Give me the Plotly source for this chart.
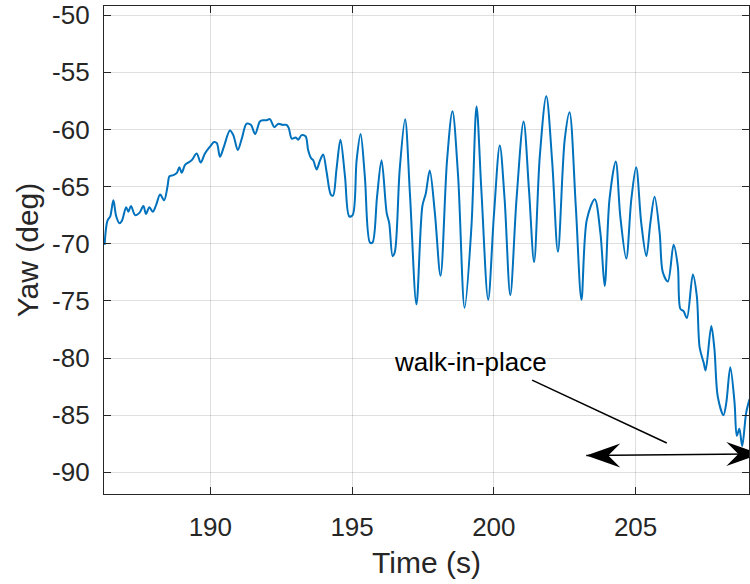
import plotly.graph_objects as go

# ---- data ----
time_s = [186.27, 186.37, 186.47, 186.58, 186.68, 186.79, 186.88, 187.03, 187.11, 187.20,
          187.35, 187.50, 187.64, 187.73, 187.85, 187.97, 188.09, 188.23, 188.37, 188.49,
          188.56, 188.70, 188.82, 188.91, 188.99, 189.11, 189.22, 189.34, 189.52, 189.66,
          189.81, 189.99, 190.13, 190.23, 190.34, 190.48, 190.69, 190.81, 190.97, 191.11,
          191.28, 191.43, 191.58, 191.75, 191.87, 191.99, 192.10, 192.26, 192.40, 192.54,
          192.69, 192.77, 192.87, 193.01, 193.10, 193.22, 193.36, 193.45, 193.55, 193.63,
          193.75, 193.87, 193.98, 194.10, 194.25, 194.33, 194.45, 194.59, 194.75, 194.90,
          195.02, 195.16, 195.30, 195.45, 195.63, 195.72, 195.88, 196.04, 196.22, 196.31,
          196.43, 196.51, 196.68, 196.87, 197.04, 197.27, 197.48, 197.60, 197.74, 197.92,
          198.12, 198.35, 198.54, 198.74, 198.97, 199.21, 199.39, 199.56, 199.80, 200.00,
          200.21, 200.38, 200.58, 200.80, 201.05, 201.24, 201.42, 201.62, 201.85, 202.06,
          202.26, 202.50, 202.67, 202.89, 203.09, 203.28, 203.56, 203.76, 203.91, 204.08,
          204.30, 204.46, 204.67, 204.85, 205.02, 205.20, 205.38, 205.52, 205.67, 205.85,
          205.96, 206.14, 206.34, 206.49, 206.58, 206.69, 206.81, 207.02, 207.16, 207.26,
          207.40, 207.47, 207.67, 207.78, 207.90, 208.10, 208.20, 208.34, 208.49, 208.57,
          208.66, 208.76, 208.90, 209.02]
yaw_deg = [-70.1, -68.0, -67.6, -66.2, -67.6, -68.2, -68.0, -66.8, -67.2, -66.7,
           -67.5, -67.3, -66.7, -67.4, -66.8, -67.2, -66.6, -65.7, -66.2, -65.0,
           -64.1, -64.0, -63.8, -63.3, -63.8, -63.1, -62.9, -62.7, -62.1, -62.9,
           -62.1, -61.5, -61.1, -61.2, -62.4, -61.5, -60.1, -60.5, -61.8, -60.8,
           -59.5, -59.6, -60.4, -59.3, -59.2, -59.2, -59.1, -59.8, -59.5, -59.6,
           -59.6, -59.9, -60.8, -60.7, -60.9, -60.5, -60.6, -61.8, -62.5, -62.7,
           -63.5, -62.7, -62.2, -63.7, -65.7, -65.8, -63.5, -60.9, -64.1, -67.6,
           -67.5, -62.7, -60.4, -64.1, -69.9, -69.9, -65.9, -62.7, -67.3, -68.2,
           -71.1, -70.7, -63.5, -59.1, -65.6, -75.3, -66.7, -65.6, -63.6, -67.3,
           -72.8, -62.7, -58.4, -64.1, -75.6, -68.5, -58.0, -65.3, -74.9, -67.6,
           -61.4, -66.1, -74.5, -66.1, -59.3, -65.3, -71.6, -62.4, -57.1, -62.9,
           -70.7, -60.9, -58.5, -66.7, -74.9, -67.9, -66.1, -69.1, -73.7, -66.1,
           -62.8, -67.6, -71.3, -66.1, -63.3, -68.2, -71.1, -68.2, -65.9, -69.1,
           -72.5, -73.3, -70.1, -72.0, -75.7, -75.9, -76.5, -72.7, -74.6, -79.1,
           -80.4, -81.1, -77.2, -79.2, -83.4, -85.0, -83.9, -80.8, -83.9, -86.8,
           -86.2, -87.7, -84.8, -83.6]

x_tick_vals = [190, 195, 200, 205]
y_tick_vals = [-90, -85, -80, -75, -70, -65, -60, -55, -50]
y_tick_text = ["-90", "-85", "-80", "-75", "-70", "-65", "-60", "-55", "-50"]
x_range = [186.25, 209.0]
y_range = [-91.9, -49.2]

label_text = "walk-in-place"
label_pos = (199.16, -80.37)
pointer_start = (201.35, -81.94)
pointer_end = (206.10, -87.44)
span_left = (203.26, -88.54)
span_right = (209.40, -88.39)

FONT = "Liberation Sans, Arial, Helvetica, sans-serif"
AX = "#262626"
GRID = "rgba(38,38,38,0.15)"

fig = go.Figure()
fig.add_trace(go.Scatter(
    x=time_s, y=yaw_deg, mode="lines",
    line=dict(color="#0072BD", width=2, shape="spline", smoothing=0.9),
    showlegend=False, hoverinfo="skip"))

axis_common = dict(
    showline=True, linecolor=AX, linewidth=1.3, mirror="ticks",
    ticks="inside", ticklen=7, tickwidth=1, tickcolor=AX,
    showgrid=True, gridcolor=GRID, gridwidth=1, zeroline=False,
    tickfont=dict(family=FONT, size=26, color=AX),
)

fig.update_xaxes(range=x_range, tickvals=x_tick_vals, ticklabelstandoff=10,
                 title=dict(text="Time (s)", font=dict(family=FONT, size=30, color=AX), standoff=10),
                 **axis_common)
fig.update_yaxes(range=y_range, tickvals=y_tick_vals, ticktext=y_tick_text, ticklabelstandoff=8,
                 title=dict(text="Yaw (deg)", font=dict(family=FONT, size=30, color=AX), standoff=4),
                 **axis_common)

shapes = [
    dict(type="line", xref="x", yref="y", x0=pointer_start[0], y0=pointer_start[1],
         x1=pointer_end[0], y1=pointer_end[1], line=dict(color="black", width=1.5)),
    dict(type="line", xref="x", yref="y", x0=span_left[0], y0=span_left[1],
         x1=span_right[0], y1=span_right[1], line=dict(color="black", width=1.5)),
    dict(type="path", xref="x", yref="y", xsizemode="pixel", ysizemode="pixel",
         xanchor=span_left[0], yanchor=span_left[1],
         path="M0,0 L34,12 L22,0 L34,-12 Z", fillcolor="black", line=dict(width=0)),
    dict(type="path", xref="x", yref="y", xsizemode="pixel", ysizemode="pixel",
         xanchor=span_right[0], yanchor=span_right[1],
         path="M0,0 L-34,12 L-22,0 L-34,-12 Z", fillcolor="black", line=dict(width=0)),
]
fig.update_layout(shapes=shapes)

fig.add_annotation(x=label_pos[0], y=label_pos[1], xref="x", yref="y", text=label_text,
                   showarrow=False, font=dict(family=FONT, size=26, color="black"))

fig.update_layout(
    width=750, height=584,
    margin=dict(l=104, r=1, t=6, b=90),
    paper_bgcolor="white", plot_bgcolor="white",
)

fig.write_html("out.html")
